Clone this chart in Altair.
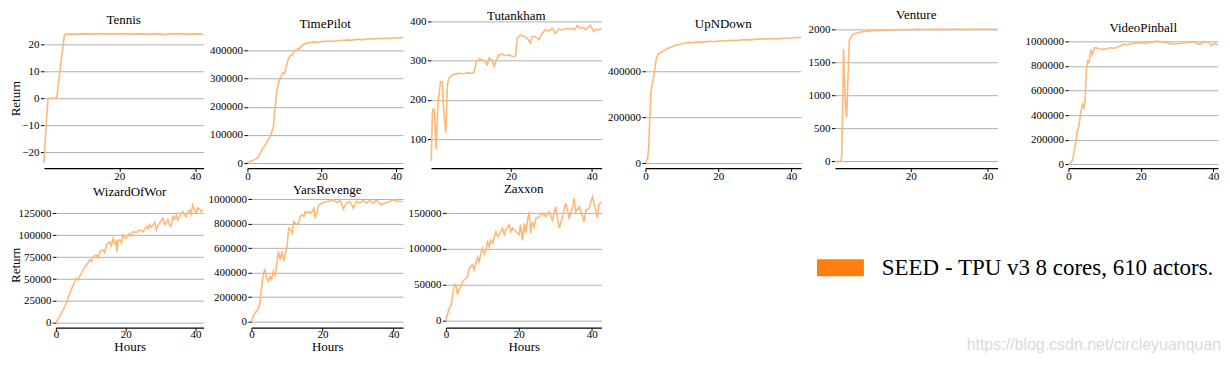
import altair as alt
import pandas as pd

SERIES = ["SEED - TPU v3 8 cores, 610 actors."]
WATERMARK = ["https://blog.csdn.net/circleyuanquan"]
Y_LABEL = "Return"
X_LABEL = "Hours"

# ---------------- data ----------------
tennis_h = [0.1, 0.6, 1.2, 2.0, 3.0, 3.5, 4.5, 5.5, 6.0, 8, 10, 12, 14, 16, 18, 20, 22, 24,
            26, 28, 30, 32, 34, 36, 38, 40, 42.1]
tennis_v = [-24, -12, 0, 0, 0, 0.2, 12, 23.4, 23.8, 23.8, 23.9, 23.8, 23.9, 23.9, 23.8, 23.9,
            23.9, 23.8, 23.9, 23.8, 23.9, 23.6, 23.9, 23.9, 23.8, 23.9, 23.8]

timepilot_h = [0, 0.5, 1, 1.5, 2, 2.5, 3, 3.5, 4, 4.5, 5, 5.5, 6, 6.5, 7, 7.5, 8, 8.5, 9, 9.5,
               10, 10.5, 11, 11.5, 12, 12.5, 13, 13.5, 14, 14.5, 15, 15.5, 16, 17, 18, 19, 20,
               21, 22, 23, 24, 25, 26, 27, 28, 29, 30, 31, 32, 33, 34, 35, 36, 37, 38, 39, 40,
               41, 41.9]
timepilot_v = [2000, 4000, 7000, 9000, 12000, 16000, 22000, 35000, 50000, 58000, 68000, 80000,
               92000, 108000, 130000, 205000, 262000, 290000, 304000, 320000, 316000, 345000,
               368000, 380000, 382000, 396000, 402000, 405000, 406000, 414000, 420000, 423000,
               425000, 428000, 430000, 428000, 431000, 432000, 433000, 432000, 434000, 435000,
               436000, 437000, 436000, 438000, 439000, 437000, 440000, 441000, 440000, 442000,
               442000, 443000, 442000, 444000, 444000, 445000, 445000]

tutankham_h = [0.2, 0.45, 0.7, 1.0, 1.4, 1.9, 2.5, 2.9, 3.3, 3.8, 4.2, 4.6, 5.4, 6.2, 7.1, 8.0,
               8.7, 9.5, 10.2, 10.8, 11.4, 12.1, 12.7, 13.3, 14.1, 14.5, 15.3, 15.8, 16.2, 17.0,
               17.8, 18.6, 19.5, 20.3, 21.1, 21.5, 22.3, 23.2, 24.0, 24.8, 25.2, 26.0, 26.9,
               27.7, 28.5, 29.3, 30.2, 31.0, 31.8, 32.7, 33.5, 34.3, 35.1, 35.8, 36.4, 37.2,
               38.0, 38.5, 39.2, 39.7, 40.5, 41.1, 41.7, 42.4]
tutankham_v = [44, 163, 179, 170, 74, 196, 247, 247, 170, 116, 240, 256, 264, 266, 268, 267,
               268, 269, 268, 270, 298, 305, 303, 300, 290, 307, 302, 285, 298, 315, 317, 313,
               315, 311, 311, 358, 366, 362, 358, 345, 362, 362, 353, 370, 379, 375, 383, 370,
               381, 379, 383, 381, 383, 379, 390, 383, 385, 379, 386, 390, 375, 380, 379, 383]

upndown_h = [0, 0.3, 0.6, 0.9, 1.2, 1.5, 1.8, 2.1, 2.5, 3.0, 3.6, 4.2, 5.0, 5.7, 6.4, 7.2, 8.2,
             9.0, 10, 11, 12, 13, 14, 15, 16, 17, 18, 19, 20, 21, 22, 23, 24, 25, 26, 27, 28,
             29, 30, 31, 32, 33, 34, 35, 36, 37, 38, 39, 40, 41, 42, 42.7]
upndown_v = [0, 8000, 23000, 66000, 197000, 313000, 340000, 364000, 400000, 458000, 477000,
             482000, 490000, 495000, 501000, 506000, 513000, 516000, 520000, 523000, 525000,
             524000, 527000, 528000, 527000, 530000, 531000, 529000, 532000, 533000, 532000,
             534000, 535000, 534000, 536000, 537000, 538000, 537000, 539000, 540000, 541000,
             540000, 541000, 542000, 543000, 542000, 544000, 545000, 545000, 546000, 547000,
             548000]

venture_h = [0.26, 0.8, 1.3, 1.7, 2.0, 2.3, 2.5, 2.8, 3.05, 3.3, 3.6, 4.0, 4.4, 4.9, 5.5, 6.2,
             7, 8, 8.8, 10, 11, 12.3, 13.5, 15, 16.6, 18, 20, 22, 24, 26, 28, 30, 32, 34, 36,
             38, 40, 42.6]
venture_v = [0, -5, 0, 0, 55, 914, 1697, 1167, 800, 660, 1167, 1823, 1880, 1924, 1935, 1949,
             1958, 1968, 1974, 1978, 1982, 1985, 1988, 1992, 1995, 1996, 1998, 2000, 1999, 2001,
             2000, 2002, 2001, 2000, 2002, 2001, 2003, 2003]

videopinball_h = [0, 0.7, 1.2, 1.6, 2.1, 2.5, 3.0, 3.4, 3.9, 4.3, 4.6, 5.0, 5.3, 5.7, 6.2, 6.6,
                  7.2, 7.8, 8.4, 9.1, 9.8, 10.7, 11.6, 12.5, 13.4, 14.3, 15.3, 16.2, 17.2, 18.5,
                  19.8, 21, 22.2, 23.3, 24.4, 25.7, 27.1, 28, 28.9, 29.8, 30.8, 31.7, 32.6,
                  33.5, 34.4, 35.3, 36.3, 37.2, 38.1, 38.8, 39.5, 40.2, 40.8, 41.3]
videopinball_v = [0, 13000, 41000, 108000, 190000, 271000, 325000, 420000, 488000, 460000,
                  515000, 785000, 840000, 825000, 935000, 894000, 948000, 945000, 940000,
                  938000, 935000, 942000, 948000, 944000, 950000, 962000, 976000, 970000,
                  980000, 984000, 989000, 985000, 989000, 995000, 1003000, 995000, 989000,
                  983000, 976000, 980000, 983000, 987000, 989000, 993000, 997000, 985000,
                  976000, 990000, 997000, 992000, 962000, 985000, 976000, 970000]

wizard_h = [0, 1.1, 2.1, 3.0, 4.0, 5.0, 5.9, 6.4, 6.9, 7.8, 8.8, 9.7, 10.2, 10.7, 11.6, 12.1,
            12.6, 13.5, 14.0, 14.5, 15.4, 15.9, 16.4, 16.9, 17.3, 17.5, 17.8, 18.3, 18.8, 19.2,
            19.7, 20.2, 21.1, 21.6, 22.1, 23.0, 24.0, 24.9, 25.9, 26.4, 26.8, 27.3, 27.8, 28.3,
            28.8, 29.2, 29.7, 30.2, 30.7, 31.2, 31.6, 32.1, 32.5, 33.0, 33.5, 34.0, 34.5, 34.9,
            35.4, 35.9, 36.4, 36.8, 37.3, 37.8, 38.3, 38.7, 39.2, 39.7, 40.2, 40.6, 41.1, 41.6,
            42.1]
wizard_v = [0, 7500, 15000, 22700, 34000, 43500, 51000, 49000, 53700, 60500, 66000, 72000,
            70000, 75000, 77600, 74000, 81400, 83300, 80000, 89000, 92700, 88000, 96600, 90000,
            92700, 81000, 94000, 94600, 91000, 100300, 97000, 96600, 102000, 99000, 104000,
            103000, 106000, 104000, 109800, 107000, 112000, 109000, 111700, 115000, 106000,
            111000, 113600, 117000, 119300, 112000, 113600, 118000, 112000, 109800, 121100,
            118000, 123000, 117000, 121000, 125000, 126800, 123000, 121000, 127000, 128700,
            124000, 134400, 129000, 125000, 131000, 130000, 127000, 128700]

yars_h = [0, 1.0, 1.9, 2.4, 2.9, 3.4, 3.8, 4.3, 4.8, 5.3, 5.7, 6.2, 6.7, 7.2, 7.6, 8.1, 8.6,
          9.1, 9.6, 10.0, 10.5, 11.0, 11.5, 11.9, 12.4, 12.9, 13.3, 13.8, 14.3, 14.8, 15.2,
          15.7, 16.2, 16.7, 17.2, 17.6, 18.0, 18.5, 19.0, 19.9, 20.8, 21.8, 22.7, 23.6, 24.3,
          25.0, 25.5, 25.9, 26.4, 26.8, 27.7, 28.2, 28.7, 29.6, 30.5, 31.5, 32.4, 33.3, 34.3,
          35.2, 35.9, 36.6, 37.5, 38.2, 38.9, 39.8, 40.7, 41.7, 42.6]
yars_v = [0, 71000, 98000, 152000, 288000, 397000, 424000, 356000, 330000, 370000, 343000,
          410000, 370000, 479000, 574000, 506000, 574000, 492000, 567000, 601000, 765000,
          751000, 724000, 818000, 805000, 791000, 805000, 859000, 873000, 859000, 900000,
          886000, 900000, 886000, 905000, 928000, 846000, 900000, 955000, 968000, 982000,
          982000, 996000, 982000, 975000, 990000, 960000, 919000, 950000, 968000, 982000,
          960000, 928000, 982000, 968000, 990000, 968000, 990000, 968000, 990000, 975000,
          955000, 968000, 975000, 982000, 996000, 985000, 982000, 982000]

zaxxon_h = [0, 0.5, 0.9, 1.4, 1.8, 2.3, 2.7, 3.2, 3.7, 4.1, 4.6, 5.5, 5.9, 6.4, 7.3, 7.8, 8.2,
            8.7, 9.1, 9.6, 10.0, 10.5, 11.0, 11.4, 11.9, 12.3, 12.8, 13.7, 14.2, 14.6, 15.5,
            16.0, 16.4, 17.4, 17.8, 18.3, 19.2, 20.1, 20.5, 21.0, 21.5, 21.9, 22.4, 22.8, 23.3,
            23.7, 24.2, 24.7, 25.6, 26.5, 27.4, 28.3, 29.2, 30.1, 31.1, 32.0, 32.9, 33.8, 34.7,
            35.2, 35.6, 36.6, 37.5, 37.9, 38.4, 39.3, 40.2, 41.1, 41.6, 42.0, 42.7]
zaxxon_v = [0, 10000, 17000, 20000, 33500, 50000, 50000, 36000, 45000, 47000, 54500, 59000,
            61000, 73000, 78000, 71000, 80000, 88500, 82000, 94000, 101000, 93000, 99000,
            110000, 103000, 112000, 108000, 124000, 117000, 120000, 129000, 120000, 127000,
            133600, 124000, 129000, 124000, 120000, 134000, 112000, 136000, 122000, 140000,
            152000, 122000, 138000, 131000, 143000, 145000, 150000, 145000, 152000, 140000,
            159000, 129000, 145000, 164000, 143000, 157000, 171000, 152000, 159000, 145000,
            138000, 154000, 157000, 173000, 154000, 143000, 162000, 166000]

# tick values shown on the axes
tennis_ticks = [-20, -10, 0, 10, 20]
timepilot_ticks = [0, 100000, 200000, 300000, 400000]
tutankham_ticks = [100, 200, 300, 400]
upndown_ticks = [0, 200000, 400000]
venture_ticks = [0, 500, 1000, 1500, 2000]
videopinball_ticks = [0, 200000, 400000, 600000, 800000, 1000000]
wizard_ticks = [0, 25000, 50000, 75000, 100000, 125000]
yars_ticks = [0, 200000, 400000, 600000, 800000, 1000000]
zaxxon_ticks = [0, 50000, 100000, 150000]
hour_ticks_full = [0, 20, 40]
hour_ticks_part = [20, 40]

# ---------------- style / layout ----------------
FONT = "Liberation Serif"
LINE_COLOR = "#ffb877"
LEGEND_COLOR = "#ff7f0e"
GRID_COLOR = "#b0b0b0"
H1 = 147          # top-row panel height
H2 = 130          # bottom-row panel height
COLS = [204, 184, 215, 190, 234, 150]   # grid column widths


def panel(name, hours, values, cell_w, left, width, height, xdom, xticks, ydom, yticks,
          title_y, ytitle_x=None, ytitle_y=None, xtitle=False):
    df = pd.DataFrame({"Hours": hours, "Return": values})
    xa = dict(values=xticks, format="d", grid=False, domain=True, domainColor="black",
              domainWidth=1.3, ticks=True, tickColor="black", tickSize=3.5, tickWidth=1,
              labelFont=FONT, labelFontSize=11, labelColor="black",
              labelBaseline="alphabetic", labelPadding=6.5 if xtitle else 8,
              labelFlush=False, labelOverlap=False)
    if xtitle:
        xa.update(title=X_LABEL, titleFont=FONT, titleFontSize=13, titleFontWeight="normal",
                  titleColor="black", titleBaseline="alphabetic", titleAlign="center",
                  titleX=left + width / 2, titleY=23)
    else:
        xa.update(title="")
    ya = dict(values=yticks, format="d", grid=True, gridColor=GRID_COLOR, gridWidth=1,
              domain=False, ticks=True, tickColor="black", tickSize=3.5, tickWidth=1,
              labelFont=FONT, labelFontSize=11, labelColor="black", labelPadding=1.5,
              labelOverlap=False, offset=-left)
    if ytitle_x is not None:
        ya.update(title=Y_LABEL, titleFont=FONT, titleFontSize=13, titleFontWeight="normal",
                  titleColor="black", titleBaseline="alphabetic", titleAlign="center",
                  titleAngle=270, titleX=ytitle_x, titleY=ytitle_y)
    else:
        ya.update(title="")
    line = alt.Chart(df).mark_line(color=LINE_COLOR, strokeWidth=1.6).encode(
        x=alt.X("Hours:Q",
                scale=alt.Scale(domain=xdom, range=[left, left + width], nice=False,
                                zero=False),
                axis=alt.Axis(**xa)),
        y=alt.Y("Return:Q", scale=alt.Scale(domain=ydom, nice=False, zero=False),
                axis=alt.Axis(**ya)),
    )
    ttl = alt.Chart(pd.DataFrame({"name": [name]})).mark_text(
        font=FONT, fontSize=13, baseline="alphabetic", align="center", color="black"
    ).encode(x=alt.value(left + width / 2), y=alt.value(title_y), text="name:N")
    return alt.layer(line, ttl).properties(width=cell_w, height=height)


tennis = panel("Tennis", tennis_h, tennis_v, COLS[0], 0, 160, H1, [0.1, 42.2],
               hour_ticks_part, [-25.93, 28.52], tennis_ticks, 2.5, ytitle_x=-24,
               ytitle_y=77)
timepilot = panel("TimePilot", timepilot_h, timepilot_v, COLS[1], 0, 156, H1, [0, 41.9],
                  hour_ticks_full, [-17699, 502655], timepilot_ticks, 7)
tutankham = panel("Tutankham", tutankham_h, tutankham_v, COLS[2], 0, 171, H1, [0.12, 42.45],
                  hour_ticks_part, [26.1, 400.6], tutankham_ticks, -1.5)
upndown = panel("UpNDown", upndown_h, upndown_v, COLS[3], 0, 156, H1, [0, 42.7],
                hour_ticks_full, [-21739, 617391], upndown_ticks, 7)
venture = panel("Venture", venture_h, venture_v, COLS[4], 0, 163, H1, [0.26, 42.6],
                hour_ticks_part, [-101.3, 2120.9], venture_ticks, -2)
videopinball = panel("VideoPinball", videopinball_h, videopinball_v, COLS[5], 0, 150, H1,
                     [0, 41.3], hour_ticks_full, [-30008, 1162206], videopinball_ticks, 10.5)
wizard = panel("WizardOfWor", wizard_h, wizard_v, COLS[0], 12, 148, H2, [0, 42.3],
               hour_ticks_full, [-5341, 142391], wizard_ticks, -2, ytitle_x=-36,
               ytitle_y=67, xtitle=True)
yars = panel("YarsRevenge", yars_h, yars_v, COLS[1], 4, 152, H2, [0, 42.7], hour_ticks_full,
             [-48900, 1010600], yars_ticks, -4, xtitle=True)
zaxxon = panel("Zaxxon", zaxxon_h, zaxxon_v, COLS[2], 15, 156, H2, [0, 42.7],
               hour_ticks_full, [-10195, 171363], zaxxon_ticks, -5, xtitle=True)

# legend + watermark (placed in the 4th column of the bottom row)
leg_df = pd.DataFrame({"label": SERIES})
leg_rect = alt.Chart(leg_df).mark_rect(color=LEGEND_COLOR).encode(
    x=alt.value(172), x2=alt.value(219), y=alt.value(61.5), y2=alt.value(78.5))
leg_text = alt.Chart(leg_df).mark_text(
    font=FONT, fontSize=23, align="left", baseline="alphabetic", color="black"
).encode(x=alt.value(237), y=alt.value(77.5), text="label:N")
wm_text = alt.Chart(pd.DataFrame({"t": WATERMARK})).mark_text(
    font="Liberation Sans", fontSize=16, align="left", baseline="alphabetic", color="#dadada"
).encode(x=alt.value(322), y=alt.value(152), text="t:N")
annotation = alt.layer(leg_rect, leg_text, wm_text).properties(width=COLS[3], height=H2)

cells = [tennis, timepilot, tutankham, upndown, venture, videopinball,
         wizard, yars, zaxxon, annotation]

chart = alt.concat(
    *cells, columns=6, spacing=alt.RowColnumber(row=30, column=0), bounds="flush",
    align="each"
).properties(
    padding={"left": 2, "top": 1, "right": 0, "bottom": 0}
).configure_view(strokeWidth=0)

chart.save("out.html", embed_options={"renderer": "svg", "actions": False})
